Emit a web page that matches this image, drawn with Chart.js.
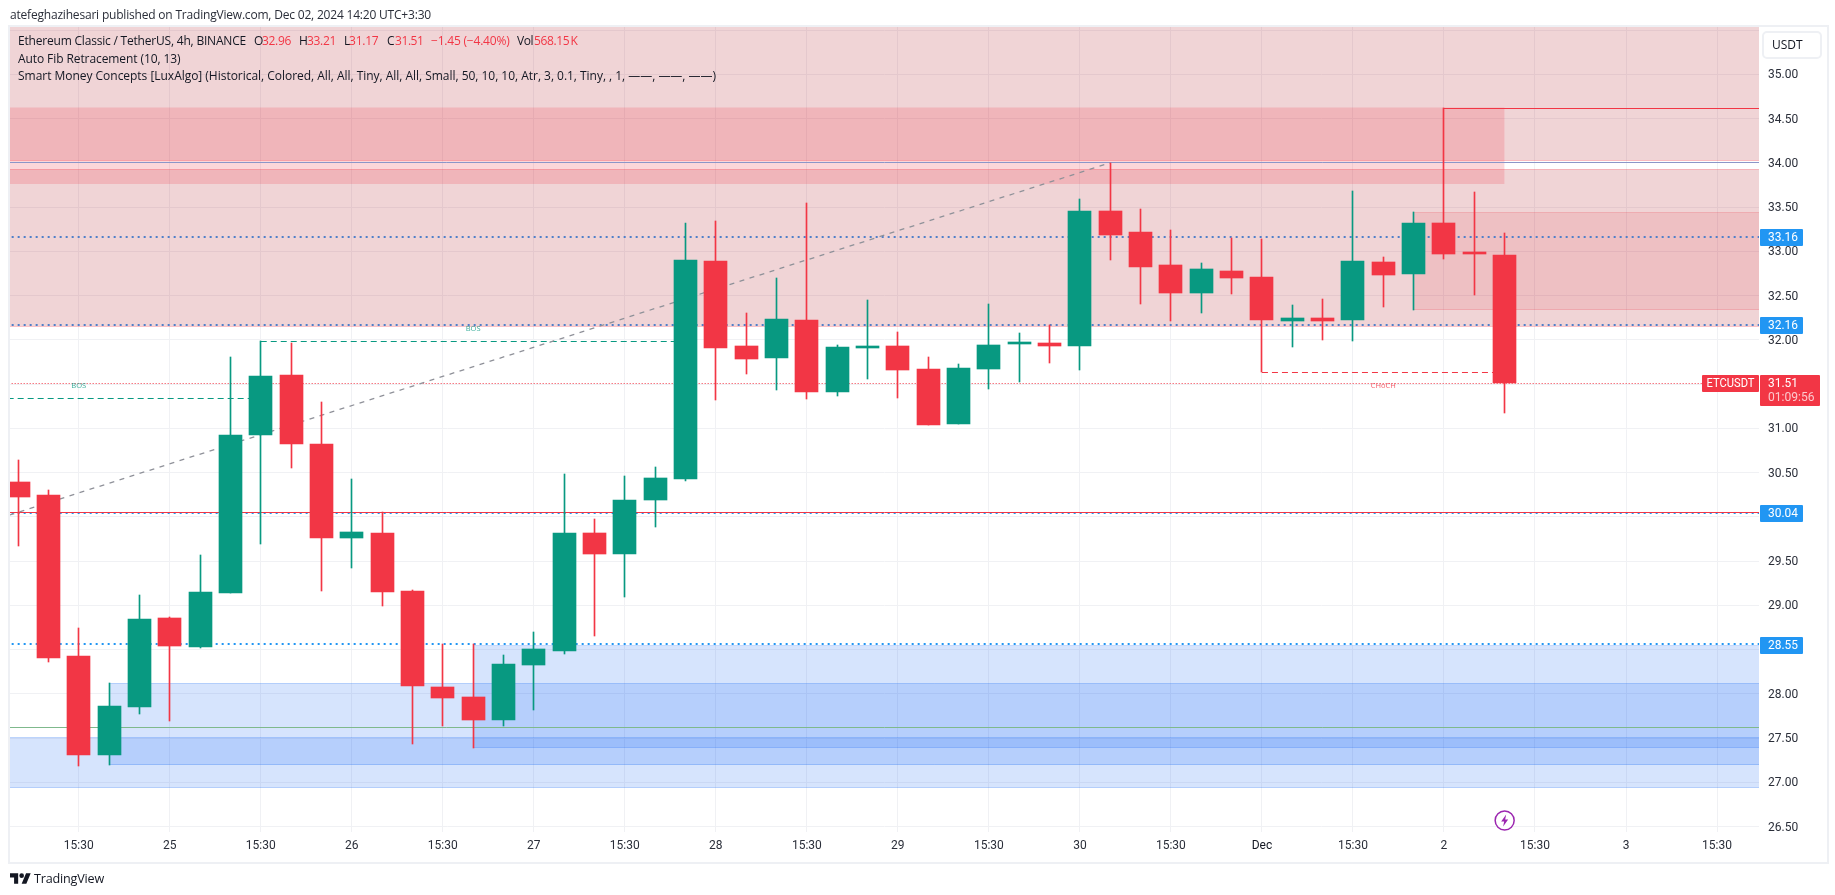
<!DOCTYPE html>
<html>
<head>
<meta charset="utf-8">
<title>ETCUSDT 4h</title>
<script src="https://cdn.jsdelivr.net/npm/chart.js@4"></script>
<style>
  html, body { margin: 0; padding: 0; background: #fff; width: 1835px; height: 895px; overflow: hidden; }
  body { font-family: "Open Sans", sans-serif; color: #131722; position: relative; }
  #chartCanvas { position: absolute; left: 0; top: 0; }
  #frame { position: absolute; left: 8px; top: 25px; width: 1817px; height: 835px; border: 2px solid #eef0f4; pointer-events: none; }
  #published { position: absolute; left: 10px; top: 6px; font-size: 12px; line-height: 18px; white-space: nowrap; color: #2a2e39; }
  .legend { position: absolute; font-size: 12px; line-height: 16px; white-space: nowrap; color: #131722; }
  #unit { position: absolute; left: 1762px; top: 31px; width: 48px; height: 24px; padding-left: 8px; border: 2px solid #eef0f4; border-radius: 5px; font-size: 12px; line-height: 24px; }
  #brand { position: absolute; left: 10px; top: 869px; height: 18px; display: flex; align-items: center; font-size: 12.6px; color: #131722; }
  #brand svg { width: 21px; height: 14px; margin-right: 3px; }
</style>
</head>
<body>
<canvas id="chartCanvas" width="1835" height="895"></canvas>
<div id="frame"></div>
<div id="published">atefeghazihesari published on TradingView.com, Dec 02, 2024 14:20 UTC+3:30</div>
<div id="unit">USDT</div>
<div id="brand"><svg viewBox="0 0 36 24"><path fill="#131722" d="M14 22H7V11H0V4h14v18zM28 22h-8l7.5-18h8L28 22z"/><circle fill="#131722" cx="20" cy="8" r="4"/></svg><span id="brandName">TradingView</span></div>
<script>
// candles (index 0 = first 4h bar on screen)
const opens  = [30.39,30.25,28.43,27.31,27.85,28.86,28.53,29.14,30.92,31.60,30.82,29.76,29.82,29.16,28.08,27.96,27.70,28.33,28.48,29.82,29.58,30.19,30.43,32.89,31.93,31.79,32.22,31.41,31.91,31.93,31.67,31.05,31.67,31.95,31.96,31.93,33.46,33.22,32.85,32.53,32.78,32.71,32.21,32.25,32.22,32.88,32.74,33.32,32.98,32.96];
const highs  = [30.64,30.30,28.75,28.12,29.12,28.87,29.57,31.81,31.99,31.96,31.30,30.43,30.05,29.17,28.56,28.56,28.44,28.70,30.48,29.98,30.46,30.56,33.32,33.34,32.30,32.70,33.55,31.94,32.45,32.09,31.81,31.73,32.40,32.08,32.17,33.59,34.00,33.48,33.24,32.87,33.15,33.14,32.39,32.46,33.68,32.94,33.44,34.62,33.67,33.21];
const lows   = [29.67,28.36,27.18,27.20,27.77,27.69,28.52,29.14,29.69,30.55,29.16,29.42,28.99,27.43,27.64,27.39,27.64,27.82,28.45,28.65,29.09,29.88,30.40,31.32,31.61,31.43,31.33,31.37,31.56,31.34,31.04,31.05,31.44,31.52,31.74,31.66,32.90,32.40,32.21,32.30,32.52,31.64,31.92,32.00,31.99,32.37,32.34,32.91,32.51,31.17];
const closes = [30.22,28.41,27.31,27.86,28.85,28.54,29.15,30.92,31.59,30.82,29.76,29.83,29.15,28.09,27.95,27.70,28.34,28.51,29.82,29.58,30.19,30.44,32.90,31.91,31.78,32.24,31.41,31.92,31.92,31.66,31.04,31.68,31.94,31.96,31.93,33.45,33.18,32.82,32.53,32.80,32.70,32.22,32.25,32.21,32.89,32.73,33.32,32.97,32.97,31.51];

// time axis
const xTickBars   = [2,5,8,11,14,17,20,23,26,29,32,35,38,41,44,47,50,53,56];
const xTickLabels = ['15:30','25','15:30','26','15:30','27','15:30','28','15:30','29','15:30','30','15:30','Dec','15:30','2','15:30','3','15:30'];

// price axis
const yGridPrices = [35.5,35,34.5,34,33.5,33,32.5,32,31.5,31,30.5,30,29.5,29,28.5,28,27.5,27,26.5];
const yHiddenLabels = [35.5,31.5,30,28.5];

// zones: start bar, end bar, top price, bottom price
const zoneStarts  = [-1,-1,-1,46,-1,3,15];
const zoneEnds    = [58,58,49,58,58,58,58];
const zoneTops    = [35.7,33.92,34.62,33.44,27.51,28.12,28.55];
const zoneBottoms = [34.03,32.155,33.76,32.34,26.94,27.20,27.39];
const zoneFills   = ['rgba(178,40,51,0.2)','rgba(178,40,51,0.2)','rgba(242,54,69,0.2)','rgba(220,40,55,0.12)','rgba(49,121,245,0.2)','rgba(49,121,245,0.2)','rgba(49,121,245,0.2)'];
const zoneEdges   = ['rgba(242,54,69,0.3)','rgba(242,54,69,0.3)','rgba(242,54,69,0)','rgba(242,54,69,0.2)','rgba(49,121,245,0.25)','rgba(49,121,245,0.3)','rgba(49,121,245,0.2)'];

// horizontal levels and structure lines: start bar, end bar, price
const lineStarts = [-1,-1,-1,-1,-1,-1,-1,-1,47,-1,8,41];
const lineEnds   = [58,58,58,58,58,58,58,58,58,8,22,49];
const linePrices = [33.16,32.16,30.04,28.56,30.055,34.0,27.62,31.51,34.615,31.34,31.98,31.63];
const lineColors = ['#4f7fc9','#4f7fc9','#2196f3','#2196f3','#f23645','#8c96c8','#7fb98c','#f23645','#f23645','#089981','#089981','#f23645'];
const lineWidths = [2,2,2,2,1,1,1,1,1,1,1,1];
const lineDashes = [[2,4],[2,4],[2,4],[2,4],[],[],[],[1,2],[],[6,4],[6,4],[6,4]];

// fib diagonal
const fibBars   = [-0.28,36];
const fibPrices = [30.02,34.0];

// small notes on the chart
const noteTexts  = ['BOS','BOS','CHoCH'];
const noteBars   = [2,15,45];
const notePrices = [31.48,32.125,31.48];
const noteColors = ['#089981','#089981','#f23645'];

// price tags on the axis
const tagPrices = [33.16,32.16,30.04,28.55];
const lastPrice = 31.51;
const symbol = 'ETCUSDT';
const countdown = '01:09:56';
const flashBar = 49;
const flashPrice = 26.57;

const RED = '#f23645';
const GREEN = '#089981';
const FONT = '"Open Sans", sans-serif';
const AXIS_FONT = 'Roboto, sans-serif';

// legend text: text, left, width on screen, colour
const legendTop = 33;
const legendLine1 = [
  ['Ethereum Classic / TetherUS, 4h, BINANCE', 18, 228, '#131722'],
  ['O', 254, 0, '#131722'], ['32.96', 262, 29, RED],
  ['H', 299, 0, '#131722'], ['33.21', 307, 29, RED],
  ['L', 344, 0, '#131722'], ['31.17', 349, 29.5, RED],
  ['C', 387, 0, '#131722'], ['31.51', 395, 28.5, RED],
  ['\u22121.45 (\u22124.40%)', 431, 78.5, RED],
  ['Vol', 517, 16, '#131722'], ['568.15\u202fK', 534, 43.5, RED]
];
const legendLine2 = 'Auto Fib Retracement (10, 13)';
const legendLine3 = 'Smart Money Concepts [LuxAlgo] (Historical, Colored, All, All, Tiny, All, All, Small, 50, 10, 10, Atr, 3, 0.1, Tiny, , 1, \u2014\u2014, \u2014\u2014, \u2014\u2014)';

// the original font runs a bit narrower, so squeeze each run to its measured width
function fitWidth(el, width) {
  const gap = (width - el.getBoundingClientRect().width) / el.textContent.length;
  el.style.letterSpacing = gap.toFixed(3) + 'px';
}

function addLegend(text, left, top, color, width) {
  const el = document.createElement('div');
  el.className = 'legend';
  el.textContent = text;
  el.style.left = left + 'px';
  el.style.top = top + 'px';
  el.style.color = color;
  document.body.appendChild(el);
  if (width) fitWidth(el, width);
}
legendLine1.forEach(p => addLegend(p[0], p[1], legendTop, p[3], p[2]));
addLegend(legendLine2, 18, legendTop + 17.5, '#131722', 162.5);
addLegend(legendLine3, 18, legendTop + 35, '#131722', 698);
fitWidth(document.getElementById('published'), 421);
fitWidth(document.getElementById('brandName'), 70);

// build datasets
const barIndex = opens.map((v, i) => i);
const datasets = [];

zoneStarts.forEach((s, i) => {
  datasets.push({
    type: 'line', order: 50 - i,
    data: [{x: s, y: zoneTops[i]}, {x: zoneEnds[i], y: zoneTops[i]}],
    borderColor: zoneEdges[i], borderWidth: 1, pointRadius: 0,
    backgroundColor: zoneFills[i],
    fill: {target: {value: zoneBottoms[i]}}
  });
  datasets.push({
    type: 'line', order: 30 - i,
    data: [{x: s, y: zoneBottoms[i]}, {x: zoneEnds[i], y: zoneBottoms[i]}],
    borderColor: zoneEdges[i], borderWidth: 1, pointRadius: 0, fill: false
  });
});

linePrices.forEach((p, i) => {
  datasets.push({
    type: 'line', order: 20 - i * 0.1,
    data: [{x: lineStarts[i], y: p}, {x: lineEnds[i], y: p}],
    borderColor: lineColors[i], borderWidth: lineWidths[i], borderDash: lineDashes[i],
    pointRadius: 0, fill: false
  });
});

datasets.push({
  type: 'line', order: 10,
  data: fibBars.map((b, i) => ({x: b, y: fibPrices[i]})),
  borderColor: '#8f9199', borderWidth: 1.3, borderDash: [5, 5.5], pointRadius: 0, fill: false
});

const candleColor = ctx => closes[ctx.dataIndex] >= opens[ctx.dataIndex] ? GREEN : RED;

datasets.push({
  type: 'bar', order: 2, grouped: false, barThickness: 1,
  data: barIndex.map(i => ({x: i, y: [lows[i], highs[i]]})),
  backgroundColor: candleColor, borderWidth: 0
});
datasets.push({
  type: 'bar', order: 1, grouped: false, barThickness: 23, minBarLength: 2,
  data: barIndex.map(i => ({x: i, y: [opens[i], closes[i]]})),
  backgroundColor: candleColor, borderWidth: 0
});

// keep bars and flat lines on whole pixels like the original
const crispPlugin = {
  id: 'crisp',
  afterDatasetsUpdate(chart) {
    chart.getSortedVisibleDatasetMetas().forEach(meta => {
      const ds = chart.data.datasets[meta.index];
      if (meta.type === 'bar') {
        meta.data.forEach(el => {
          el.x = Math.floor(el.x) + 0.5;
          el.y = Math.round(el.y);
          el.base = Math.round(el.base);
        });
      } else if (ds.data[0].y === ds.data[1].y) {
        const odd = ds.borderWidth % 2 === 1;
        meta.data.forEach(el => {
          el.y = odd ? Math.floor(el.y) + 0.5 : Math.floor(el.y);
        });
      }
    });
  }
};

function roundRect(ctx, x, y, w, h, r) {
  ctx.beginPath();
  ctx.roundRect(x, y, w, h, r);
  ctx.fill();
}

// notes, price tags and the flash mark on top of everything
const overlayPlugin = {
  id: 'overlay',
  afterDraw(chart) {
    const ctx = chart.ctx;
    const xs = chart.scales.x;
    const ys = chart.scales.y;
    ctx.save();

    ctx.font = '7.5px ' + FONT;
    ctx.textAlign = 'center';
    ctx.textBaseline = 'middle';
    noteTexts.forEach((t, i) => {
      ctx.fillStyle = noteColors[i];
      ctx.globalAlpha = 0.8;
      ctx.fillText(t, xs.getPixelForValue(noteBars[i]), ys.getPixelForValue(notePrices[i]));
    });
    ctx.globalAlpha = 1;

    ctx.font = '12.5px ' + AXIS_FONT;
    ctx.textAlign = 'left';
    tagPrices.forEach(p => {
      const y = Math.round(ys.getPixelForValue(p) - 0.3);
      ctx.fillStyle = '#2196f3';
      roundRect(ctx, 1760, y - 8, 43, 17, 1);
      ctx.fillStyle = '#fff';
      ctx.fillText(p.toFixed(2), 1768, y + 1, 30);
    });

    const ly = Math.round(ys.getPixelForValue(lastPrice));
    ctx.fillStyle = RED;
    roundRect(ctx, 1702, ly - 8, 57, 17, 1);
    roundRect(ctx, 1760, ly - 8, 60, 31, 1);
    ctx.fillStyle = '#fff';
    ctx.fillText(symbol, 1706.5, ly + 1, 48);
    ctx.fillText(lastPrice.toFixed(2), 1768, ly + 1, 30);
    ctx.fillStyle = '#fcc8cd';
    ctx.fillText(countdown, 1768, ly + 15, 46.5);

    const fx = xs.getPixelForValue(flashBar);
    const fy = ys.getPixelForValue(flashPrice);
    ctx.strokeStyle = '#9c27b0';
    ctx.lineWidth = 1.5;
    ctx.beginPath();
    ctx.arc(fx, fy, 9.5, 0, Math.PI * 2);
    ctx.fillStyle = '#fff';
    ctx.fill();
    ctx.stroke();
    ctx.fillStyle = '#9c27b0';
    ctx.beginPath();
    ctx.moveTo(fx + 1.5, fy - 6);
    ctx.lineTo(fx - 3.5, fy + 1);
    ctx.lineTo(fx - 0.5, fy + 1);
    ctx.lineTo(fx - 1.5, fy + 6);
    ctx.lineTo(fx + 3.5, fy - 1);
    ctx.lineTo(fx + 0.5, fy - 1);
    ctx.closePath();
    ctx.fill();

    ctx.restore();
  }
};

new Chart(document.getElementById('chartCanvas'), {
  type: 'bar',
  data: { datasets: datasets },
  plugins: [crispPlugin, overlayPlugin],
  options: {
    responsive: false,
    animation: false,
    events: [],
    layout: { padding: { left: 10, top: 27, right: 0, bottom: 0 } },
    plugins: { legend: { display: false }, title: { display: false }, tooltip: { enabled: false } },
    scales: {
      x: {
        type: 'linear',
        offset: false,
        min: -0.2637,
        max: 57.383,
        afterFit: s => { s.height = 895 - 832; },
        afterBuildTicks: s => { s.ticks = xTickBars.map(v => ({value: v})); },
        grid: { color: '#f0f1f4', drawTicks: false, offset: false },
        border: { display: false },
        ticks: {
          autoSkip: false, maxRotation: 0, padding: 7,
          color: c => xTickLabels[xTickBars.indexOf(c.tick.value)] === 'Dec' ? '#131722' : '#2a2e39',
          font: { family: AXIS_FONT, size: 12 },
          callback: v => xTickLabels[xTickBars.indexOf(v)]
        }
      },
      y: {
        position: 'right',
        min: 26.44,
        max: 35.534,
        afterFit: s => { s.width = 1835 - 1759; },
        afterBuildTicks: s => { s.ticks = yGridPrices.map(v => ({value: v})); },
        grid: { color: '#f0f1f4', drawTicks: false },
        border: { display: false },
        ticks: {
          autoSkip: false, padding: 9, align: 'center', labelOffset: 1, color: '#2a2e39',
          font: { family: AXIS_FONT, size: 12 },
          callback: v => yHiddenLabels.includes(v) ? '' : v.toFixed(2)
        }
      }
    }
  }
});
</script>
</body>
</html>
